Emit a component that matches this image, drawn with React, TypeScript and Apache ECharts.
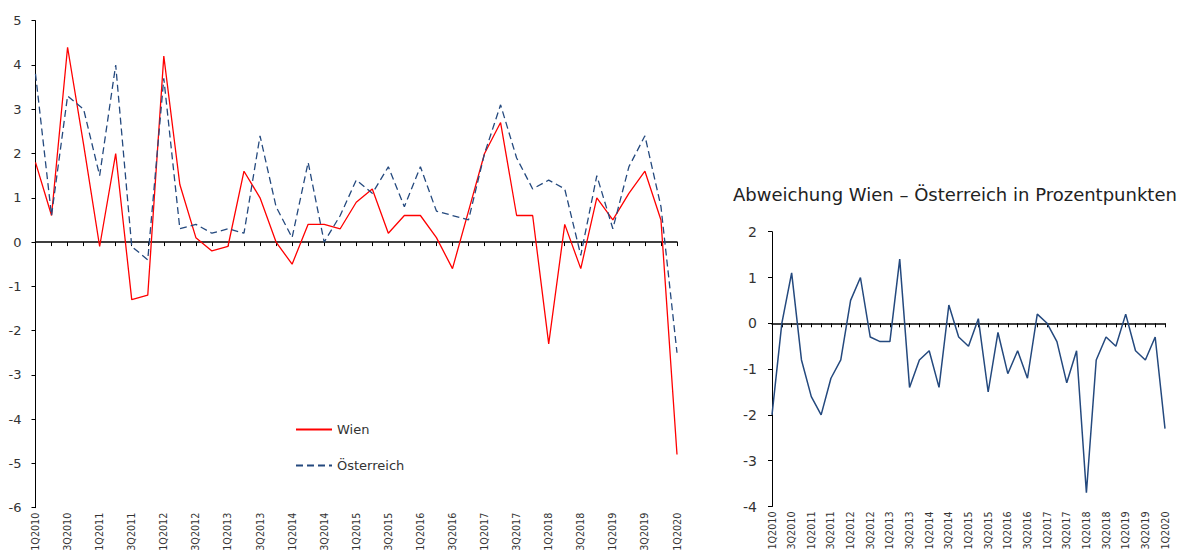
import React, { useEffect, useRef } from "react";
import * as echarts from "echarts";

const quarters: string[] = [
  "1Q2010", "2Q2010", "3Q2010", "4Q2010",
  "1Q2011", "2Q2011", "3Q2011", "4Q2011",
  "1Q2012", "2Q2012", "3Q2012", "4Q2012",
  "1Q2013", "2Q2013", "3Q2013", "4Q2013",
  "1Q2014", "2Q2014", "3Q2014", "4Q2014",
  "1Q2015", "2Q2015", "3Q2015", "4Q2015",
  "1Q2016", "2Q2016", "3Q2016", "4Q2016",
  "1Q2017", "2Q2017", "3Q2017", "4Q2017",
  "1Q2018", "2Q2018", "3Q2018", "4Q2018",
  "1Q2019", "2Q2019", "3Q2019", "4Q2019",
  "1Q2020",
];

const wien: number[] = [
  1.8, 0.6, 4.4, 2.2, -0.1, 2.0, -1.3, -1.2, 4.2, 1.3,
  0.1, -0.2, -0.1, 1.6, 1.0, 0.0, -0.5, 0.4, 0.4, 0.3,
  0.9, 1.2, 0.2, 0.6, 0.6, 0.1, -0.6, 0.7, 2.0, 2.7,
  0.6, 0.6, -2.3, 0.4, -0.6, 1.0, 0.5, 1.1, 1.6, 0.5,
  -4.8,
];

const oesterreich: number[] = [
  3.8, 0.6, 3.3, 3.0, 1.5, 4.0, -0.1, -0.4, 3.7, 0.3,
  0.4, 0.2, 0.3, 0.2, 2.4, 0.8, 0.1, 1.8, 0.0, 0.6,
  1.4, 1.1, 1.7, 0.8, 1.7, 0.7, 0.6, 0.5, 2.0, 3.1,
  1.9, 1.2, 1.4, 1.2, -0.3, 1.5, 0.3, 1.7, 2.4, 0.8,
  -2.5,
];

const abweichung: number[] = [
  -2.0, 0.0, 1.1, -0.8, -1.6, -2.0, -1.2, -0.8, 0.5, 1.0,
  -0.3, -0.4, -0.4, 1.4, -1.4, -0.8, -0.6, -1.4, 0.4, -0.3,
  -0.5, 0.1, -1.5, -0.2, -1.1, -0.6, -1.2, 0.2, 0.0, -0.4,
  -1.3, -0.6, -3.7, -0.8, -0.3, -0.5, 0.2, -0.6, -0.8, -0.3,
  -2.3,
];

const rightTitle = "Abweichung Wien – Österreich in Prozentpunkten";

const FONT = "DejaVu Sans";
const TXT = "#333333";
const RED = "#FF0000";
const BLUE = "#24497E";

export default function App() {
  const ref = useRef<HTMLDivElement>(null);
  useEffect(() => {
    if (!ref.current) return;
    const chart = echarts.init(ref.current, undefined, { renderer: "svg" });

    const zeroAxis = (gridIndex: number) => ({
      type: "category",
      gridIndex,
      data: quarters,
      boundaryGap: false,
      position: "bottom",
      axisLine: { show: true, onZero: true, lineStyle: { color: "#000", width: 1.5 } },
      axisTick: { show: true, inside: false, length: 4, interval: 0, lineStyle: { color: "#000", width: 1 } },
      axisLabel: { show: false },
      splitLine: { show: false },
    });
    const labelAxis = (gridIndex: number, fontSize: number, margin: number) => ({
      type: "category",
      gridIndex,
      data: quarters,
      boundaryGap: false,
      position: "bottom",
      axisLine: { show: false, onZero: false },
      axisTick: { show: false },
      axisLabel: {
        show: true,
        rotate: 90,
        interval: 1,
        margin,
        fontSize,
        color: TXT,
        fontFamily: FONT,
      },
      splitLine: { show: false },
    });
    const valueAxis = (gridIndex: number, min: number, max: number, fontSize: number, margin: number) => ({
      type: "value",
      gridIndex,
      min,
      max,
      interval: 1,
      axisLine: { show: true, lineStyle: { color: "#000", width: 1 } },
      axisTick: { show: true, inside: false, length: 4, lineStyle: { color: "#000" } },
      axisLabel: { fontSize, color: TXT, fontFamily: FONT, margin },
      splitLine: { show: false },
    });

    chart.setOption({
      animation: false,
      backgroundColor: "#fff",
      title: {
        text: rightTitle,
        left: 733,
        top: 185,
        padding: 0,
        textStyle: { fontSize: 18, fontWeight: "normal", color: "#222", fontFamily: FONT },
      },
      legend: {
        orient: "vertical",
        left: 290,
        top: 418,
        itemWidth: 36,
        itemHeight: 14,
        itemGap: 23,
        itemStyle: { opacity: 0 },
        textStyle: { fontSize: 13, color: TXT, fontFamily: FONT },
        data: ["Wien", "Österreich"],
      },
      grid: [
        { left: 35.5, top: 20.7, width: 641.5, height: 487, outerBoundsMode: "none", containLabel: false },
        { left: 772, top: 231.7, width: 393, height: 274.8, outerBoundsMode: "none", containLabel: false },
      ],
      xAxis: [zeroAxis(0), labelAxis(0, 9.6, 5), zeroAxis(1), labelAxis(1, 9.6, 5)],
      yAxis: [valueAxis(0, -6, 5, 13, 14), valueAxis(1, -4, 2, 14, 15)],
      series: [
        {
          name: "Wien",
          type: "line",
          xAxisIndex: 0,
          yAxisIndex: 0,
          data: wien,
          symbol: "none",
          lineStyle: { color: RED, width: 1.3 },
          itemStyle: { color: RED },
        },
        {
          name: "Österreich",
          type: "line",
          xAxisIndex: 0,
          yAxisIndex: 0,
          data: oesterreich,
          symbol: "none",
          lineStyle: { color: BLUE, width: 1.3, type: [7, 4] },
          itemStyle: { color: BLUE },
        },
        {
          name: "Abweichung",
          type: "line",
          xAxisIndex: 2,
          yAxisIndex: 1,
          data: abweichung,
          symbol: "none",
          lineStyle: { color: BLUE, width: 1.5 },
          itemStyle: { color: BLUE },
        },
      ],
    });
    return () => chart.dispose();
  }, []);

  return (
    <div
      ref={ref}
      style={{ position: "absolute", left: 0, top: 0, width: 1179, height: 554, overflow: "hidden" }}
    />
  );
}
